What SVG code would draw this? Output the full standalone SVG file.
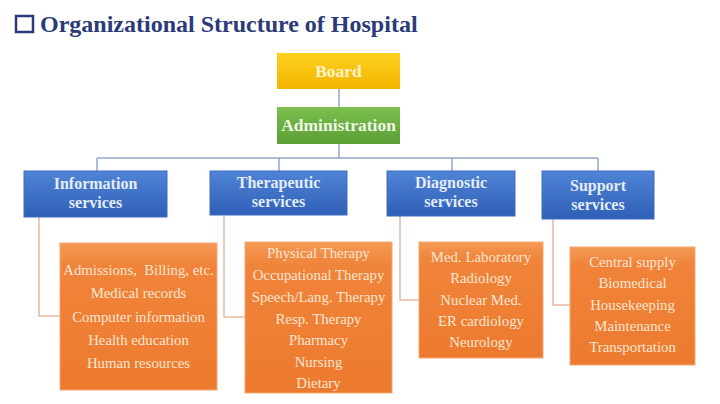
<svg xmlns="http://www.w3.org/2000/svg" width="720" height="404" viewBox="0 0 720 404">
<defs>
<linearGradient id="gY" x1="0" y1="0" x2="0" y2="1"><stop offset="0" stop-color="#ffd21f"/><stop offset="1" stop-color="#f2b300"/></linearGradient>
<linearGradient id="gG" x1="0" y1="0" x2="0" y2="1"><stop offset="0" stop-color="#7dc04f"/><stop offset="1" stop-color="#5a9e35"/></linearGradient>
<linearGradient id="gB" x1="0" y1="0" x2="0" y2="1"><stop offset="0" stop-color="#4f84d6"/><stop offset="1" stop-color="#2f5fb7"/></linearGradient>
<linearGradient id="gO" x1="0" y1="0" x2="0" y2="1"><stop offset="0" stop-color="#f49a56"/><stop offset="0.15" stop-color="#f0843a"/><stop offset="1" stop-color="#ec7a2e"/></linearGradient>
</defs>
<style>
.title{font-family:"Liberation Serif",serif;font-weight:bold;font-size:24px;fill:#2b3a78}
.hd{font-family:"Liberation Serif",serif;font-weight:bold;font-size:17.5px;text-anchor:middle}
.sv{font-family:"Liberation Serif",serif;font-weight:bold;font-size:16px;fill:#e4ecfa;text-anchor:middle}
.it{font-family:"Liberation Serif",serif;font-size:14.8px;fill:#fde6d2;text-anchor:middle;white-space:pre}
.bus{stroke:#93a8cc;stroke-width:1.5;fill:none}
.sub{stroke:#e6b9a4;stroke-width:1.5;fill:none}
.blue{fill:url(#gB);stroke:#3e6cc0;stroke-width:1}
.orange{fill:url(#gO);stroke:#f2a874;stroke-width:1}
</style>
<rect width="720" height="404" fill="#ffffff"/>
<g id="title">
<rect x="16" y="16" width="17" height="16" fill="none" stroke="#2b3a78" stroke-width="2.5"/>
<text class="title" x="40" y="32">Organizational Structure of Hospital</text>
</g>
<g id="connectors">
<path class="bus" d="M339 89V107M339 144V158M97 158H598M97 158V171M279 158V171M452 158V171M598 158V171"/>
<path class="sub" d="M39 217V316H60M224 215V317H245M400 216V300H419M553 219V305H570"/>
</g>
<g id="board">
<rect x="277" y="53" width="123" height="36" fill="url(#gY)"/>
<text class="hd" x="338.5" y="77" fill="#fff3cc">Board</text>
</g>
<g id="administration">
<rect x="277" y="107" width="123" height="37" fill="url(#gG)"/>
<text class="hd" x="338.5" y="131" fill="#eef8e6">Administration</text>
</g>
<g id="information">
<rect class="blue" x="24" y="171" width="143" height="46"/>
<text class="sv" x="95.5" y="189">Information</text>
<text class="sv" x="95.5" y="207.5">services</text>
</g>
<g id="therapeutic">
<rect class="blue" x="210" y="171" width="137" height="44"/>
<text class="sv" x="278.5" y="188">Therapeutic</text>
<text class="sv" x="278.5" y="206.5">services</text>
</g>
<g id="diagnostic">
<rect class="blue" x="387" y="171" width="128" height="45"/>
<text class="sv" x="451" y="188">Diagnostic</text>
<text class="sv" x="451" y="206.5">services</text>
</g>
<g id="support">
<rect class="blue" x="542" y="171" width="112" height="48"/>
<text class="sv" x="598" y="191">Support</text>
<text class="sv" x="598" y="209.5">services</text>
</g>
<g id="information-list">
<rect class="orange" x="60" y="243" width="157" height="147"/>
<text class="it" x="138.5" y="275">Admissions,  Billing, etc.</text>
<text class="it" x="138.5" y="298">Medical records</text>
<text class="it" x="138.5" y="322">Computer information</text>
<text class="it" x="138.5" y="345">Health education</text>
<text class="it" x="138.5" y="368">Human resources</text>
</g>
<g id="therapeutic-list">
<rect class="orange" x="245" y="242" width="147" height="151"/>
<text class="it" x="318.5" y="258">Physical Therapy</text>
<text class="it" x="318.5" y="280">Occupational Therapy</text>
<text class="it" x="318.5" y="302">Speech/Lang. Therapy</text>
<text class="it" x="318.5" y="324">Resp. Therapy</text>
<text class="it" x="318.5" y="345">Pharmacy</text>
<text class="it" x="318.5" y="367">Nursing</text>
<text class="it" x="318.5" y="388">Dietary</text>
</g>
<g id="diagnostic-list">
<rect class="orange" x="419" y="242" width="124" height="116"/>
<text class="it" x="481" y="262">Med. Laboratory</text>
<text class="it" x="481" y="283">Radiology</text>
<text class="it" x="481" y="305">Nuclear Med.</text>
<text class="it" x="481" y="326">ER cardiology</text>
<text class="it" x="481" y="347">Neurology</text>
</g>
<g id="support-list">
<rect class="orange" x="570" y="247" width="125" height="118"/>
<text class="it" x="632.5" y="267">Central supply</text>
<text class="it" x="632.5" y="288">Biomedical</text>
<text class="it" x="632.5" y="310">Housekeeping</text>
<text class="it" x="632.5" y="331">Maintenance</text>
<text class="it" x="632.5" y="352">Transportation</text>
</g>
</svg>
